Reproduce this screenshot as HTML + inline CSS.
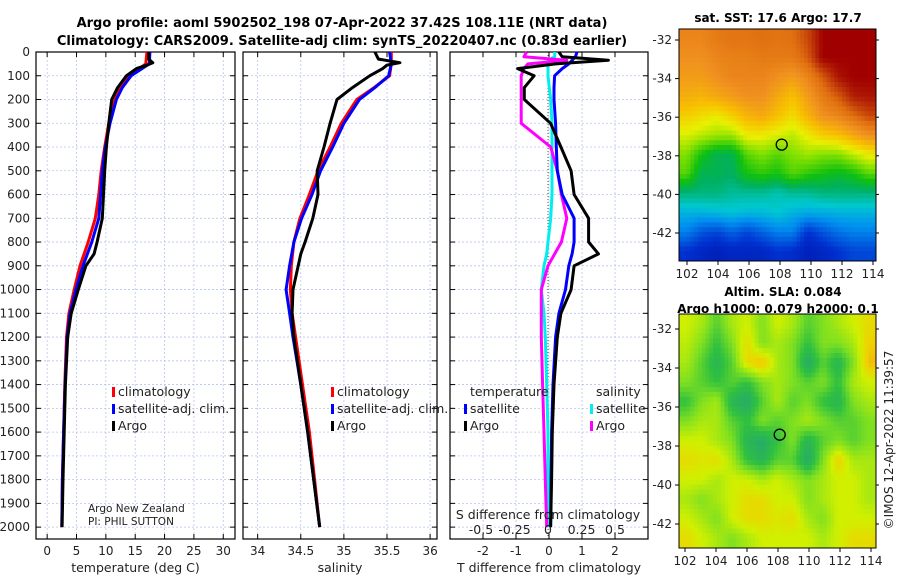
<!DOCTYPE html>
<html><head><meta charset="utf-8"><style>
body{margin:0;background:#fff;}
svg{display:block;font-family:"DejaVu Sans","Liberation Sans",sans-serif;}
</style></head><body>
<svg id="fig" width="900" height="580" viewBox="0 0 900 580" xmlns="http://www.w3.org/2000/svg">
<text x="342" y="27" text-anchor="middle" font-size="13" font-weight="bold">Argo profile: aoml 5902502_198 07-Apr-2022 37.42S 108.11E (NRT data)</text>
<text x="342" y="45" text-anchor="middle" font-size="13" font-weight="bold">Climatology: CARS2009. Satellite-adj clim: synTS_20220407.nc (0.83d earlier)</text>
<text x="778" y="22" text-anchor="middle" font-size="12" font-weight="bold">sat. SST: 17.6 Argo: 17.7</text>
<text x="783" y="296" text-anchor="middle" font-size="12" font-weight="bold">Altim. SLA: 0.084</text>
<text x="778" y="313" text-anchor="middle" font-size="12" font-weight="bold">Argo h1000: 0.079 h2000: 0.1</text>
<text transform="translate(893,440) rotate(-90)" text-anchor="middle" font-size="12" fill="#222">©IMOS 12-Apr-2022 11:39:57</text>
<g id="g"></g>
</svg>
<script>
// ---------- data ----------
const tDepth=[0,50,100,150,200,300,400,500,600,700,800,900,1000,1100,1200,1400,1600,1800,2000];
const tClim=[17.0,16.8,14.0,12.5,11.5,10.5,9.8,9.2,8.8,8.2,7.0,5.6,4.6,3.7,3.3,3.0,2.8,2.6,2.5];
const tSat=[17.5,17.4,14.3,12.8,11.8,10.7,9.9,9.4,9.1,8.8,7.6,6.1,4.9,3.9,3.4,3.05,2.8,2.6,2.5];
const argoDepth=[0,30,45,55,70,100,150,200,300,400,500,600,700,800,850,900,1000,1100,1200,1400,1600,1800,2000];
const tArgo=[17.3,17.3,18.0,17.0,15.2,13.5,12.0,11.0,10.5,10.1,9.8,9.6,9.4,8.5,8.0,6.6,5.3,4.1,3.5,3.1,2.9,2.7,2.55];
const sClim=[35.55,35.55,35.53,35.35,35.15,34.97,34.84,34.7,34.6,34.49,34.42,34.39,34.38,34.4,34.44,34.52,34.6,34.66,34.72];
const sSat=[35.53,35.55,35.52,35.36,35.18,35.0,34.87,34.73,34.63,34.51,34.42,34.37,34.33,34.37,34.41,34.5,34.58,34.65,34.72];
const sArgo=[35.36,35.4,35.65,35.5,35.45,35.3,35.1,34.92,34.84,34.77,34.69,34.7,34.64,34.55,34.5,34.47,34.41,34.4,34.42,34.5,34.58,34.65,34.72];
const dDepth=[0,20,35,50,70,100,150,200,300,400,500,600,700,800,850,900,1000,1100,1200,1400,1600,1800,2000];
const dTArgo=[0.3,0.4,1.8,0.2,-0.95,-0.45,-0.75,-0.75,0.05,0.36,0.67,0.76,1.2,1.2,1.5,0.76,0.67,0.36,0.25,0.15,0.1,0.08,0.05];
const dTSat=[0.85,0.8,0.7,0.6,0.4,0.17,0.15,0.15,0.2,0.22,0.25,0.4,0.76,0.76,0.7,0.6,0.5,0.3,0.2,0.12,0.08,0.06,0.05];
const dSSat=[0.05,0.05,0.0,0.0,0.0,0.0,0.01,0.02,0.03,0.03,0.03,0.03,0.02,0.0,-0.01,-0.03,-0.05,-0.03,-0.02,-0.01,0,0,0];
const dSArgo=[-0.16,-0.18,0.14,-0.15,-0.18,-0.2,-0.2,-0.2,-0.2,0.02,0.07,0.1,0.14,0.1,0.05,0.0,-0.05,-0.05,-0.05,-0.04,-0.03,-0.02,-0.01];
const sstGrid=[
[.82,.82,.84,.85,.85,.86,.85,.86,.9,.97,.97,.97,.97],
[.8,.8,.82,.83,.83,.84,.84,.84,.88,.97,.97,.97,.97],
[.78,.78,.8,.82,.82,.82,.8,.78,.82,.88,.95,.97,.97],
[.75,.74,.76,.78,.8,.8,.76,.72,.78,.84,.88,.94,.95],
[.7,.68,.66,.7,.74,.76,.72,.68,.74,.8,.82,.86,.9],
[.64,.62,.6,.6,.66,.66,.64,.62,.66,.7,.72,.76,.8],
[.58,.5,.45,.45,.55,.58,.55,.58,.6,.58,.58,.62,.66],
[.55,.45,.45,.44,.5,.52,.5,.55,.52,.5,.48,.5,.55],
[.42,.42,.42,.4,.4,.4,.38,.4,.4,.42,.42,.42,.42],
[.33,.33,.34,.35,.34,.34,.36,.33,.32,.32,.33,.33,.33],
[.26,.2,.18,.22,.18,.22,.26,.26,.15,.2,.24,.26,.26],
[.15,.12,.1,.12,.12,.12,.15,.14,.1,.12,.15,.18,.18]];
const slaGrid=[
[.7,.6,.4,.6,.7,.5,.7,.6,.4,.5,.6,.7,.8],
[.65,.5,.3,.5,.8,.5,.6,.5,.3,.5,.5,.6,.85],
[.6,.4,.2,.4,.8,.9,.6,.5,.1,.4,.2,.5,.9],
[.5,.4,.3,.4,.3,.5,.6,.5,.4,.5,.3,.6,.7],
[.3,.5,.6,.2,.1,.4,.6,.4,.5,.3,.2,.5,.6],
[.5,.6,.6,.4,.3,.5,.4,.5,.6,.5,.4,.4,.5],
[.7,.7,.6,.5,.2,.1,.3,.5,.2,.4,.5,.4,.5],
[.8,.75,.8,.6,.3,.2,.4,.4,.1,.5,.85,.6,.6],
[.7,.7,.6,.7,.7,.6,.7,.6,.5,.6,.7,.7,.6],
[.6,.5,.6,.7,.8,.8,.7,.7,.5,.6,.7,.7,.6],
[.7,.6,.5,.7,.8,.8,.75,.8,.6,.5,.7,.7,.7],
[.8,.7,.6,.5,.6,.7,.7,.7,.7,.6,.7,.8,.8]];
const argoLon=108.11, argoLat=-37.42;

// ---------- helpers ----------
const NS="http://www.w3.org/2000/svg";
const G=document.getElementById('g');
function mk(tag,attrs,parent){const e=document.createElementNS(NS,tag);for(const k in attrs)e.setAttribute(k,attrs[k]);(parent||G).appendChild(e);return e;}
function txt(x,y,s,size,anchor,parent){const e=mk('text',{x:x,y:y,'font-size':size||12,'text-anchor':anchor||'middle',fill:'#222'},parent);e.textContent=s;return e;}
const yTop=52,yBot=539,dMax=2050;
const yD=d=>yTop+(d/dMax)*(yBot-yTop);

function panel(name,x0,x1,xmin,xmax,ticks,labelFmt,title){
  const xs=v=>x0+(v-xmin)/(xmax-xmin)*(x1-x0);
  const g=mk('g',{});
  
  
  ticks.forEach(t=>{const X=xs(t);
    mk('line',{x1:X,x2:X,y1:yTop,y2:yBot,stroke:'#b8c4ee','stroke-width':0.8,'stroke-dasharray':'2,2'},g);
    mk('line',{x1:X,x2:X,y1:yBot,y2:yBot-5,stroke:'#000'},g);
    mk('line',{x1:X,x2:X,y1:yTop,y2:yTop+5,stroke:'#000'},g);
    const e=txt(X,555,labelFmt(t),12,'middle',g);
    
    
  });
  for(let d=0;d<=2000;d+=100){const Y=yD(d);
    mk('line',{x1:x0,x2:x1,y1:Y,y2:Y,stroke:'#b8c4ee','stroke-width':0.8,'stroke-dasharray':'2,2'},g);
    mk('line',{x1:x0,x2:x0+5,y1:Y,y2:Y,stroke:'#000'},g);
    mk('line',{x1:x1,x2:x1-5,y1:Y,y2:Y,stroke:'#000'},g);
  }
  mk('rect',{x:x0,y:yTop,width:x1-x0,height:yBot-yTop,fill:'none',stroke:'#000','stroke-width':1.2},g);
  const t=txt((x0+x1)/2,572,title,12.5,'middle',g);
  
  
  return xs;
}
function line(name,depths,vals,xs,color,w){
  const pts=depths.map((d,i)=>xs(vals[i]).toFixed(1)+','+yD(d).toFixed(1)).join(' ');
  const p=mk('polyline',{points:pts,fill:'none',stroke:color,'stroke-width':w||3,'stroke-linejoin':'round'});
  
  
}
function legend(x,y,color,label){
  mk('rect',{x:x-6,y:y-9,width:3,height:10,fill:color});
  const t=txt(x,y,label,12.5,'start');
  
  
}

for(let d=0;d<=2000;d+=100){const t=txt(30,yD(d)+4,String(d),12,'end');
  
  }

const xT=panel('temperature-panel',36,235,-1.9,32,[0,5,10,15,20,25,30],String,'temperature (deg C)');
line('temp-climatology',tDepth,tClim,xT,'#f00');
line('temp-satellite-adj',tDepth,tSat,xT,'#00f');
line('temp-argo',argoDepth,tArgo,xT,'#000');
legend(118,396,'#f00','climatology');legend(118,413,'#00f','satellite-adj. clim.');legend(118,430,'#000','Argo');
txt(88,512,'Argo New Zealand',10.5,'start');
txt(88,525,'PI: PHIL SUTTON',10.5,'start');

const xS=panel('salinity-panel',243,437,33.83,36.08,[34,34.5,35,35.5,36],String,'salinity');
line('sal-climatology',tDepth,sClim,xS,'#f00');
line('sal-satellite-adj',tDepth,sSat,xS,'#00f');
line('sal-argo',argoDepth,sArgo,xS,'#000');
legend(337,396,'#f00','climatology');legend(337,413,'#00f','satellite-adj. clim.');legend(337,430,'#000','Argo');

const xDT=panel('difference-panel',450,648,-3,3,[-2,-1,0,1,2],String,'T difference from climatology');
const xDS=v=>548+v*134;
mk('line',{x1:548,x2:548,y1:yTop,y2:yBot,stroke:'#555','stroke-width':1,'stroke-dasharray':'1,2'});
line('sdiff-satellite',dDepth,dSSat,xDS,'#0ee');
line('sdiff-argo',dDepth,dSArgo,xDS,'#f0f');
line('tdiff-satellite',dDepth,dTSat,xDT,'#00f');
line('tdiff-argo',dDepth,dTArgo,xDT,'#000');
txt(470,396,'temperature',12.5,'start');txt(596,396,'salinity',12.5,'start');
legend(470,413,'#00f','satellite');legend(470,430,'#000','Argo');
legend(596,413,'#0ee','satellite');legend(596,430,'#f0f','Argo');
txt(548,519,'S difference from climatology',12.5,'middle');
[[-0.5,'-0.5'],[-0.25,'-0.25'],[0,'0'],[0.25,'0.25'],[0.5,'0.5']].forEach(a=>txt(xDS(a[0]),534,a[1],12.5,'middle'));

// ---------- maps ----------
function lerpColor(stops,v){
  v=Math.max(0,Math.min(1,v));
  for(let i=1;i<stops.length;i++){if(v<=stops[i][0]){const a=stops[i-1],b=stops[i],f=(v-a[0])/(b[0]-a[0]);
    return 'rgb('+[0,1,2].map(k=>Math.round(a[1][k]+(b[1][k]-a[1][k])*f)).join(',')+')';}}
  return 'rgb('+stops[stops.length-1][1].join(',')+')';
}
const sstStops=[[0,[0,0,140]],[0.15,[0,48,208]],[0.28,[0,144,240]],[0.36,[0,200,208]],[0.44,[0,176,96]],[0.5,[16,192,16]],[0.58,[128,224,0]],[0.65,[232,240,0]],[0.72,[248,192,0]],[0.8,[240,144,32]],[0.86,[224,112,16]],[0.97,[160,0,0]],[1,[150,0,0]]];
const slaStops=[[0,[32,160,128]],[0.3,[48,192,64]],[0.5,[128,224,32]],[0.7,[208,240,0]],[0.85,[240,208,0]],[1,[240,144,32]]];
function sample(grid,fr,fc){
  const R=grid.length,C=grid[0].length;
  fr=Math.max(0,Math.min(R-1,fr));fc=Math.max(0,Math.min(C-1,fc));
  const r0=Math.floor(fr),c0=Math.floor(fc),r1=Math.min(R-1,r0+1),c1=Math.min(C-1,c0+1),a=fr-r0,b=fc-c0;
  return grid[r0][c0]*(1-a)*(1-b)+grid[r0][c1]*(1-a)*b+grid[r1][c0]*a*(1-b)+grid[r1][c1]*a*b;
}
function map(name,x0,y0,x1,y1,grid,stops,lat32y,latPx,lon102x,lonPx,sub){
  const g=mk('g',{});
  
  
  const R=grid.length*sub,C=grid[0].length*sub,cw=(x1-x0)/C,ch=(y1-y0)/R;
  for(let r=0;r<R;r++)for(let c=0;c<C;c++){
    const v=sample(grid,(r+0.5)/sub-0.5,(c+0.5)/sub-0.5);
    mk('rect',{x:(x0+c*cw).toFixed(2),y:(y0+r*ch).toFixed(2),width:(cw+0.5).toFixed(2),height:(ch+0.5).toFixed(2),fill:lerpColor(stops,v)},g);
  }
  mk('rect',{x:x0,y:y0,width:x1-x0,height:y1-y0,fill:'none',stroke:'#000','stroke-width':1},g);
  for(let lat=-32;lat>=-42;lat-=2){const Y=lat32y+(-32-lat)*latPx;
    mk('line',{x1:x0-4,x2:x0,y1:Y,y2:Y,stroke:'#000'},g);mk('line',{x1:x1,x2:x1+3,y1:Y,y2:Y,stroke:'#000'},g);
    txt(x0-7,Y+4,String(lat),12,'end',g);}
  for(let lon=102;lon<=114;lon+=2){const X=lon102x+(lon-102)*lonPx;
    mk('line',{x1:X,x2:X,y1:y1,y2:y1+4,stroke:'#000'},g);
    txt(X,y1+17,String(lon),12,'middle',g);}
  const cx=lon102x+(argoLon-102)*lonPx, cy=lat32y+(-32-argoLat)*latPx;
  const c=mk('circle',{cx:cx,cy:cy,r:5.5,fill:'none',stroke:'#000','stroke-width':1.3},g);
  
  
}
map('sst-map',679,29,876,261,sstGrid,sstStops,40,19.3,687,15.5,4);
map('sla-map',679,314,876,548,slaGrid,slaStops,329,19.5,685,15.5,4);
</script>
</body></html>
